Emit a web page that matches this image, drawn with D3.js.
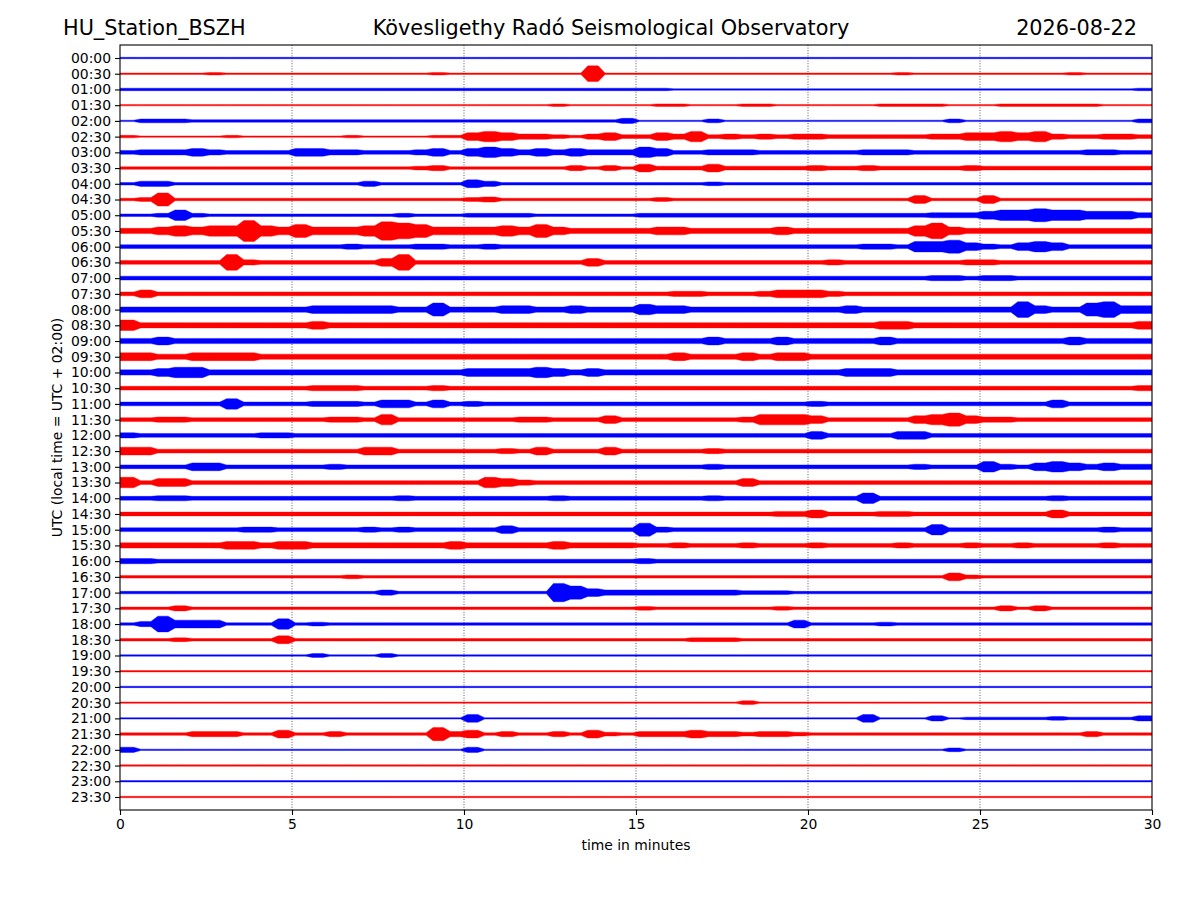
<!DOCTYPE html>
<html>
<head>
<meta charset="utf-8">
<script src="https://cdn.jsdelivr.net/npm/d3@7/dist/d3.min.js"></script>
<style>
  html, body { margin: 0; padding: 0; background: #ffffff; }
  svg { display: block; font-family: "DejaVu Sans", sans-serif; }
</style>
</head>
<body>
<svg id="chart" width="1200" height="900"></svg>
<script>
// ---- data ----
const stationName = "HU_Station_BSZH";
const chartTitle = "Kövesligethy Radó Seismological Observatory";
const chartDate = "2026-08-22";
const yAxisLabel = "UTC (local time = UTC + 02:00)";
const xAxisLabel = "time in minutes";

const rowLabels = [
  "00:00","00:30","01:00","01:30","02:00","02:30","03:00","03:30",
  "04:00","04:30","05:00","05:30","06:00","06:30","07:00","07:30",
  "08:00","08:30","09:00","09:30","10:00","10:30","11:00","11:30",
  "12:00","12:30","13:00","13:30","14:00","14:30","15:00","15:30",
  "16:00","16:30","17:00","17:30","18:00","18:30","19:00","19:30",
  "20:00","20:30","21:00","21:30","22:00","22:30","23:00","23:30"
];
const xTickValues = [0, 5, 10, 15, 20, 25, 30];
const gridMinutes = [5, 10, 15, 20, 25];
const binMinutes = 0.5;   // each digit = envelope level of one half-minute bin

// envelope level (0 = quiet .. 9 = strongest) per half-minute, read from the record
const traceEnvelopes = [
  "0000000000 0000000000 0000000000 0000000000 0000000000 0000000000",
  "0000010000 0000000010 0000000700 0000000000 0000010000 0000010000",
  "1111111111 1111111111 1111111111 1100000000 0000000000 0000000001",
  "0000000000 0000000000 0000010000 0110001100 0000111100 0111111000",
  "0222111111 1111111111 1111111113 0000200000 0000000020 0000000002",
  "1000001000 0001000011 4543321342 2435232323 3222222334 4545322332",
  "2333432222 4433222342 4543434333 5422333222 2223332222 2222223322",
  "1111111111 1111111231 1111113131 4222422222 3223222223 2222222222",
  "1331111111 1111311111 4311111111 1111211111 1111111111 1111111111",
  "1261111111 1111111111 2311111111 1211111111 1111114111 4111111111",
  "1125211111 1111112111 2222111111 2222222222 2222222333 4556554443",
  "3345455954 6444587644 4454643333 3443333343 3333335743 3333333333",
  "2222222222 2223222332 2322222222 2222222222 2223325564 3245422222",
  "2222227322 2222247222 2222222422 2222222222 2322222223 3222222222",
  "2222222222 2222222222 2222222222 2222222222 2222222332 3322222222",
  "2422222222 2222222222 2222222222 2233222344 4322222222 2222222222",
  "3333333333 3444443363 3344334333 5443333333 3343333333 3374336744",
  "5333333333 3433333333 3333333333 3333333333 3333443333 3333333334",
  "3343333333 3333333333 3333333333 3333433343 3333433333 3333343333",
  "4433444433 3333333333 3333333333 3343334344 3333333333 3333333333",
  "3345533333 3333333333 4444543433 3333333333 3344433333 3333333333",
  "2222222222 2333222232 2222222222 2222222222 2222222222 2222222223",
  "2222225222 2333244242 3222222222 2222222222 3222222222 2222422222",
  "2233222222 2233252222 2223322242 2222223555 4222224564 3322222222",
  "3222222233 2222222222 2222222222 2222222222 4222244222 2222222222",
  "4422222222 2222442222 2232422242 2222322222 2222222222 2222222222",
  "2222442222 2232222222 2222222222 2222322222 2222223222 5324543433",
  "5244222222 2222222222 2543222222 2222224222 2222222222 2222222222",
  "2233222222 2222223222 2222232222 2222322222 2225222222 2222322222",
  "2222222222 2222222222 2222222222 2222222233 4222332222 2222422222",
  "2222222332 2222323222 2242222222 6322222222 2222222522 2222222322",
  "3333334434 4333333334 3333343333 2232223222 3222232223 2232222322",
  "3322222222 2222222222 2222222222 3222222222 2222222222 2222222222",
  "1111111111 1112111111 1111111111 1111111111 1111111142 1111111111",
  "1111111111 1111131111 1111186433 3333332221 1111111111 1111111111",
  "1113111111 1111111111 1111111111 2111111121 1111111111 1313111111",
  "1374441115 1211111111 1111111111 1111111114 1111211111 1111111111",
  "1112111114 1111111111 1111111111 1112221111 1111111111 1111111111",
  "0000000000 0200020000 0000000000 0000000000 0000000000 0000000000",
  "0000000000 0000000000 0000000000 0000000000 0000000000 0000000000",
  "0000000000 0000000000 0000000000 0000000000 0000000000 0000000000",
  "0000000000 0000000000 0000000000 0000002000 0000000000 0000000000",
  "0000000000 0000000000 4000000000 0000000000 0004000301 1111211113",
  "1111333114 1131111163 4131131421 3334332332 1111111111 1111113111",
  "3000000000 0000000000 3000000000 0000000000 0000000020 0000000000",
  "0000000000 0000000000 0000000000 0000000000 0000000000 0000000000",
  "0000000000 0000000000 0000000000 0000000000 0000000000 0000000000",
  "0000000000 0000000000 0000000000 0000000000 0000000000 0000000000"
];

// ---- style / layout ----
const traceColors = ["#0000ff", "#ff0000"];
const margin = { left: 120, right: 48, top: 45, bottom: 90 };
const W = 1200, H = 900;
const plotW = W - margin.left - margin.right;   // 1032
const plotH = H - margin.top - margin.bottom;   // 765

const svg = d3.select("#chart");
svg.append("rect").attr("width", W).attr("height", H).attr("fill", "#fff");

const x = d3.scaleLinear().domain([0, 30]).range([margin.left, margin.left + plotW]);
const y = d3.scaleLinear().domain([0, rowLabels.length - 1]).range([58, 797]);
const amp = d3.scaleLinear().domain([0, 1, 2, 3, 9]).range([0.7, 1.25, 1.9, 2.6, 10.5]);

svg.append("defs").append("clipPath").attr("id", "plotClip")
  .append("rect").attr("x", margin.left).attr("y", margin.top)
  .attr("width", plotW).attr("height", plotH);

// grid
svg.append("g").selectAll("line").data(gridMinutes).join("line")
  .attr("x1", d => x(d)).attr("x2", d => x(d))
  .attr("y1", margin.top).attr("y2", margin.top + plotH)
  .attr("stroke", "#000").attr("stroke-width", 0.8)
  .attr("stroke-dasharray", "1,1.6").attr("opacity", 0.8);

// traces
const traces = svg.append("g").attr("clip-path", "url(#plotClip)");
traceEnvelopes.forEach((str, row) => {
  const levels = str.replace(/ /g, "").split("").map(Number);
  const pts = [{ t: 0, a: levels[0] }];
  levels.forEach((a, k) => {
    pts.push({ t: k * binMinutes + 0.1, a });
    pts.push({ t: k * binMinutes + 0.4, a });
  });
  pts.push({ t: 30, a: levels[levels.length - 1] });
  const cy = y(row);
  const area = d3.area()
    .x(d => x(d.t))
    .y0(d => cy + amp(d.a))
    .y1(d => cy - amp(d.a))
    .curve(d3.curveLinear);
  traces.append("path").datum(pts)
    .attr("d", area)
    .attr("fill", traceColors[row % 2])
    .attr("stroke", traceColors[row % 2])
    .attr("stroke-width", 0.4);
});

// frame
svg.append("rect").attr("x", margin.left).attr("y", margin.top)
  .attr("width", plotW).attr("height", plotH)
  .attr("fill", "none").attr("stroke", "#000").attr("stroke-width", 1.1);

// axes
const xAxis = d3.axisBottom(x).tickValues(xTickValues).tickFormat(d3.format("d"))
  .tickSize(5).tickPadding(4);
const gx = svg.append("g").attr("transform", `translate(0,${margin.top + plotH})`).call(xAxis);
gx.select(".domain").remove();
gx.selectAll("text").attr("font-size", "13.9px").attr("fill", "#000")
  .attr("font-family", "DejaVu Sans, sans-serif");
gx.selectAll("line").attr("stroke", "#000").attr("stroke-width", 1.1);

const yAxis = d3.axisLeft(y).tickValues(d3.range(rowLabels.length))
  .tickFormat(i => rowLabels[i]).tickSize(5).tickPadding(4);
const gy = svg.append("g").attr("transform", `translate(${margin.left},0)`).call(yAxis);
gy.select(".domain").remove();
gy.selectAll("text").attr("font-size", "13.9px").attr("fill", "#000")
  .attr("font-family", "DejaVu Sans, sans-serif");
gy.selectAll("line").attr("stroke", "#000").attr("stroke-width", 1.1);

// labels
svg.append("text").attr("x", x(15)).attr("y", 850).attr("text-anchor", "middle")
  .attr("font-size", "13.9px").text(xAxisLabel);
svg.append("text").attr("transform", `translate(62,${margin.top + plotH / 2}) rotate(-90)`)
  .attr("text-anchor", "middle").attr("font-size", "13.9px").text(yAxisLabel);

// titles
svg.append("text").attr("x", 63).attr("y", 35).attr("font-size", "20.8px").text(stationName);
svg.append("text").attr("x", 611).attr("y", 35).attr("text-anchor", "middle")
  .attr("font-size", "20.8px").text(chartTitle);
svg.append("text").attr("x", 1137).attr("y", 35).attr("text-anchor", "end")
  .attr("font-size", "20.8px").text(chartDate);
</script>
</body>
</html>
